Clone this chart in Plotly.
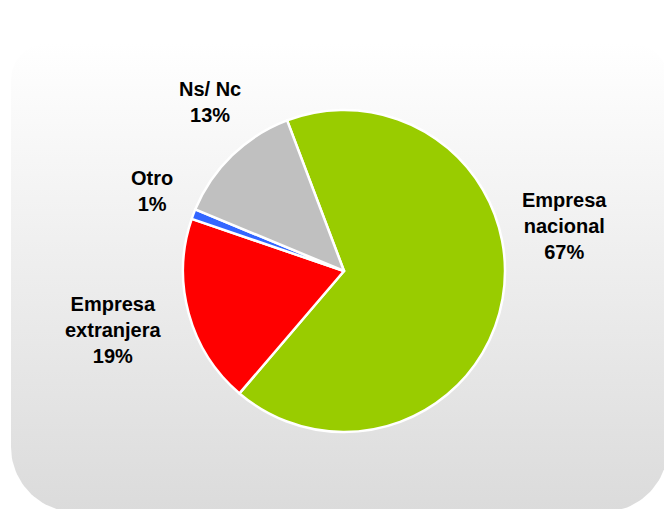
import numpy as np
import plotly.graph_objects as go

# ---- data ----
labels = ["Empresa nacional", "Empresa extranjera", "Otro", "Ns/ Nc"]
label_lines = ["Empresa<br>nacional", "Empresa<br>extranjera", "Otro", "Ns/ Nc"]
values = [67, 19, 1, 13]
colors = ["#99CC00", "#FF0000", "#3366FF", "#C0C0C0"]

W, H = 664, 509

fig = go.Figure()

# ---- rounded background panel with vertical gradient (pixel coords, y up) ----
def arc(cx, cy, r, a0, a1, n=30):
    t = np.linspace(np.radians(a0), np.radians(a1), n)
    return cx + r * np.cos(t), cy + r * np.sin(t)

left, right = 11, 668
top, bottom = H - 43, H - 512
rt, rb = 37, 65
xs, ys = [], []
for cx, cy, r, a0, a1 in [
    (right - rt, top - rt, rt, 0, 90),
    (left + rt, top - rt, rt, 90, 180),
    (left + rb, bottom + rb, rb, 180, 270),
    (right - rb, bottom + rb, rb, 270, 360),
]:
    ax, ay = arc(cx, cy, r, a0, a1)
    xs.extend(ax)
    ys.extend(ay)
xs.append(xs[0])
ys.append(ys[0])

fig.add_trace(go.Scatter(
    x=xs, y=ys, mode="lines", line=dict(width=0), fill="toself",
    fillgradient=dict(type="vertical",
                      colorscale=[[0, "#DBDBDB"], [1, "#FFFFFF"]]),
    hoverinfo="skip", showlegend=False,
))

# ---- pie ----
cx, cy, R = 344, H - 271, 161
fig.add_trace(go.Pie(
    labels=labels, values=values, sort=False, direction="clockwise",
    rotation=-20.7,
    marker=dict(colors=colors, line=dict(color="white", width=2.5)),
    textinfo="none", showlegend=False,
    domain=dict(x=[(cx - R) / W, (cx + R) / W], y=[(cy - R) / H, (cy + R) / H]),
))

# ---- labels ----
total = sum(values)
label_pos = [(564, 226), (113, 330), (152, 191), (210, 102)]
font = dict(family="Liberation Sans, Arial, sans-serif", size=20, color="black")
for txt, v, (px, py) in zip(label_lines, values, label_pos):
    fig.add_annotation(
        x=px / W, y=1 - py / H, xref="paper", yref="paper",
        text=f"<b>{txt}<br>{round(100 * v / total)}%</b>",
        showarrow=False, font=font, align="center",
        xanchor="center", yanchor="middle",
    )

fig.update_layout(
    width=W, height=H, margin=dict(l=0, r=0, t=0, b=0),
    paper_bgcolor="white", plot_bgcolor="rgba(0,0,0,0)",
    xaxis=dict(range=[0, W], visible=False, fixedrange=True, domain=[0, 1]),
    yaxis=dict(range=[0, H], visible=False, fixedrange=True, domain=[0, 1]),
)

fig.write_html(
    "out.html",
    config={"displayModeBar": False},
    post_script="document.body.style.margin='0';document.body.style.overflow='hidden';",
)
